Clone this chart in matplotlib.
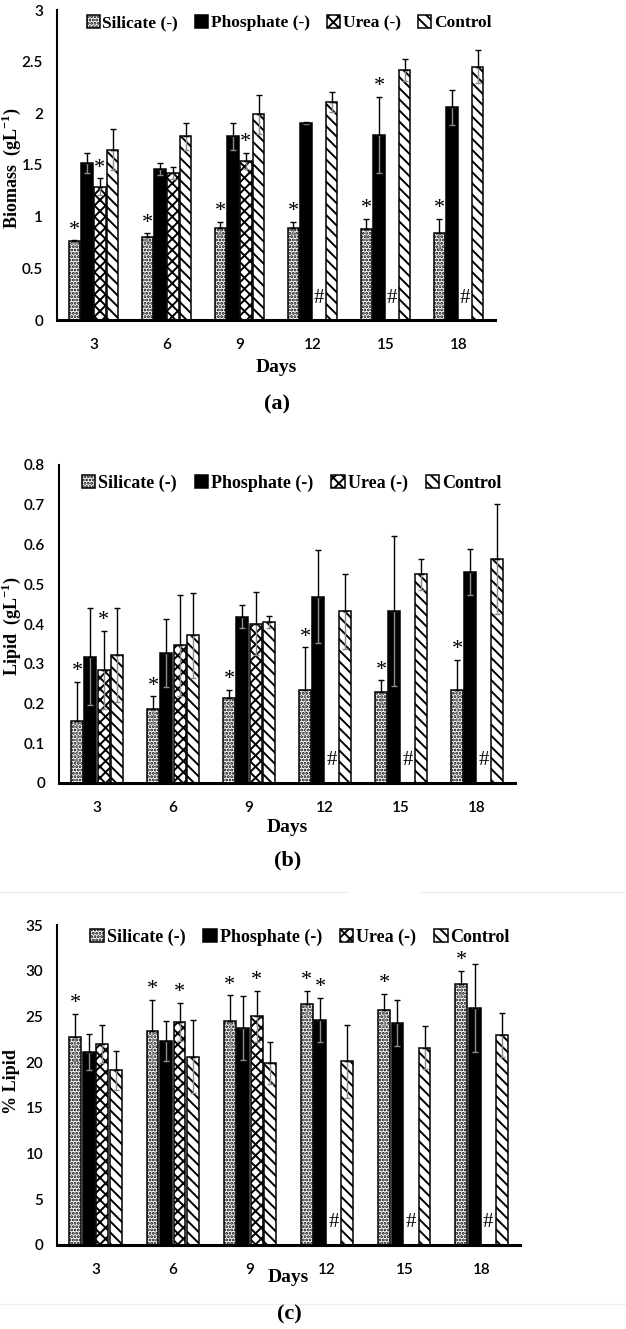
import numpy as np
import matplotlib
matplotlib.use('Agg')
import matplotlib.pyplot as plt
from matplotlib.font_manager import FontProperties
from matplotlib.lines import Line2D

plt.rcParams['hatch.linewidth'] = 1.4
plt.rcParams['mathtext.fontset'] = 'custom'
plt.rcParams['mathtext.rm'] = 'Liberation Serif'
plt.rcParams['mathtext.bf'] = 'Liberation Serif:bold'

nan = np.nan
days = ['3', '6', '9', '12', '15', '18']
series = ['Silicate (-)', 'Phosphate (-)', 'Urea (-)', 'Control']

# (a) Biomass (g/L)
bio_sil = [0.76, 0.80, 0.89, 0.89, 0.88, 0.84]
bio_sil_err = [0.01, 0.04, 0.06, 0.06, 0.10, 0.14]
bio_pho = [1.52, 1.46, 1.78, 1.91, 1.79, 2.06]
bio_pho_err = [0.10, 0.06, 0.13, 0.01, 0.37, 0.17]
bio_ure = [1.29, 1.42, 1.54, nan, nan, nan]
bio_ure_err = [0.08, 0.06, 0.08, nan, nan, nan]
bio_con = [1.65, 1.78, 1.99, 2.11, 2.42, 2.45]
bio_con_err = [0.20, 0.13, 0.19, 0.10, 0.11, 0.16]
bio_stars = {0: [0, 1, 2, 3, 4, 5], 1: [4], 2: [0, 2]}

# (b) Lipid (g/L)
lip_sil = [0.155, 0.185, 0.213, 0.234, 0.228, 0.234]
lip_sil_err = [0.10, 0.033, 0.022, 0.107, 0.030, 0.075]
lip_pho = [0.318, 0.327, 0.418, 0.468, 0.432, 0.530]
lip_pho_err = [0.122, 0.085, 0.029, 0.117, 0.189, 0.058]
lip_ure = [0.285, 0.346, 0.401, nan, nan, nan]
lip_ure_err = [0.098, 0.126, 0.080, nan, nan, nan]
lip_con = [0.322, 0.372, 0.404, 0.432, 0.525, 0.563]
lip_con_err = [0.118, 0.107, 0.015, 0.094, 0.039, 0.138]
lip_stars = {0: [0, 1, 2, 3, 4, 5], 2: [0]}

# (c) % Lipid
pct_sil = [22.7, 23.4, 24.5, 26.4, 25.7, 28.6]
pct_sil_err = [2.6, 3.4, 2.8, 1.4, 1.8, 1.4]
pct_pho = [21.1, 22.3, 23.7, 24.6, 24.3, 25.9]
pct_pho_err = [2.0, 2.2, 3.5, 2.4, 2.5, 4.8]
pct_ure = [22.0, 24.4, 25.0, nan, nan, nan]
pct_ure_err = [2.1, 2.1, 2.8, nan, nan, nan]
pct_con = [19.1, 20.6, 19.9, 20.1, 21.6, 23.0]
pct_con_err = [2.1, 4.0, 2.3, 4.0, 2.3, 2.4]
pct_stars = {0: [0, 1, 2, 3, 4, 5], 1: [3], 2: [1, 2]}

W, H = 626, 1329
fig = plt.figure(figsize=(W / 100, H / 100), dpi=100)

SERIF = 'Liberation Serif'
TICKFONT = 'Lato'
styles = [dict(color='white', hatch='.....'),
          dict(color='black'),
          dict(color='white', hatch='xxx'),
          dict(color='white', hatch='\\\\\\')]


def add_ax(l, r, top, bottom):
    return fig.add_axes([l / W, 1 - bottom / H, (r - l) / W, (bottom - top) / H])


def panel(ax, vals, errs, stars, ymax, yticks, yticklabels, leg_xy, leg_size):
    x = np.arange(len(days))
    step, width = 0.175, 0.155
    handles = []
    for s in range(4):
        v = np.array(vals[s], dtype=float)
        e = np.array(errs[s], dtype=float)
        m = ~np.isnan(v)
        xs = x[m] + (s - 1.5) * step
        b = ax.bar(xs, v[m], width, facecolor=styles[s]['color'],
                   hatch=styles[s].get('hatch'), edgecolor='black',
                   linewidth=1.1, zorder=2, label=series[s])
        handles.append(b)
        z = np.zeros(m.sum())
        ax.errorbar(xs, v[m], yerr=[e[m], z], fmt='none', ecolor='#8c8c8c',
                    elinewidth=1, capsize=2.5, capthick=1, zorder=3)
        ax.errorbar(xs, v[m], yerr=[z, e[m]], fmt='none', ecolor='black',
                    elinewidth=1, capsize=2.5, capthick=1, zorder=4)
        for i in np.where(~m)[0]:
            ax.text(x[i] + (s - 1.5) * step, ymax * 0.07, '#', ha='center',
                    va='center', fontsize=15, family=SERIF, zorder=5)
        for i in stars.get(s, []):
            ax.annotate('*', (x[i] + (s - 1.5) * step, v[i] + e[i]),
                        xytext=(0, 0.5), textcoords='offset points',
                        ha='center', va='bottom', fontsize=16, family=SERIF)
    ax.set_xlim(-0.5, len(days) - 0.5)
    ax.set_ylim(0, ymax)
    ax.set_xticks(x)
    ax.set_xticklabels(days)
    ax.set_yticks(yticks)
    ax.set_yticklabels(yticklabels)
    for lab in ax.get_xticklabels() + ax.get_yticklabels():
        lab.set_fontfamily(TICKFONT)
        lab.set_fontsize(11)
        lab.set_fontweight('semibold')
    ax.tick_params(axis='both', length=0)
    ax.tick_params(axis='x', pad=13)
    ax.tick_params(axis='y', pad=10)
    for sp in ('top', 'right'):
        ax.spines[sp].set_visible(False)
    ax.spines['left'].set_linewidth(1.5)
    ax.spines['bottom'].set_linewidth(2.2)
    ax.legend(handles, series, ncol=4, frameon=False, loc='center',
              bbox_to_anchor=leg_xy,
              prop=FontProperties(family=SERIF, weight='bold', size=leg_size),
              handlelength=0.75, handleheight=0.75, handletextpad=0.15,
              columnspacing=1.0, borderaxespad=0, borderpad=0)


axa = add_ax(57, 495, 10, 320)
panel(axa, [bio_sil, bio_pho, bio_ure, bio_con],
      [bio_sil_err, bio_pho_err, bio_ure_err, bio_con_err], bio_stars, 3,
      [0, 0.5, 1, 1.5, 2, 2.5, 3], ['0', '0.5', '1', '1.5', '2', '2.5', '3'],
      (0.53, 0.958), 12.5)

axb = add_ax(59, 515, 465, 783)
panel(axb, [lip_sil, lip_pho, lip_ure, lip_con],
      [lip_sil_err, lip_pho_err, lip_ure_err, lip_con_err], lip_stars, 0.8,
      np.arange(0, 0.81, 0.1), ['0', '0.1', '0.2', '0.3', '0.4', '0.5', '0.6', '0.7', '0.8'],
      (0.51, 0.943), 13)

axc = add_ax(57, 520, 925, 1245)
panel(axc, [pct_sil, pct_pho, pct_ure, pct_con],
      [pct_sil_err, pct_pho_err, pct_ure_err, pct_con_err], pct_stars, 35,
      np.arange(0, 36, 5), [str(v) for v in range(0, 36, 5)],
      (0.525, 0.9625), 13)

bold_serif = dict(family=SERIF, weight='bold')
# x labels
for y, cx in ((368, 276), (828, 287), (1278, 288)):
    fig.text(cx / W, 1 - y / H, 'Days', ha='center', va='center', fontsize=14, **bold_serif)
# captions
for y, cx, t in ((404, 277, '(a)'), (860, 288, '(b)'), (1314, 289, '(c)')):
    fig.text(cx / W, 1 - y / H, t, ha='center', va='center', fontsize=16, **bold_serif)
# y labels
fig.text(11 / W, 1 - 168 / H, r'Biomass  (gL$^{\mathbf{-1}}$)', rotation=90,
         ha='center', va='center', fontsize=13, **bold_serif)
fig.text(11 / W, 1 - 626 / H, r'Lipid  (gL$^{\mathbf{-1}}$)', rotation=90,
         ha='center', va='center', fontsize=13, **bold_serif)
fig.text(11 / W, 1 - 1082 / H, '% Lipid', rotation=90,
         ha='center', va='center', fontsize=13, **bold_serif)

# faint separators
for x0, x1, y in ((0, 348 / W, 892), (420 / W, 1.0, 892), (0, 1.0, 1304)):
    fig.add_artist(Line2D([x0, x1], [1 - y / H, 1 - y / H], transform=fig.transFigure,
                          color='#efefef', lw=1))

fig.savefig('out.png', dpi=100, facecolor='white')
